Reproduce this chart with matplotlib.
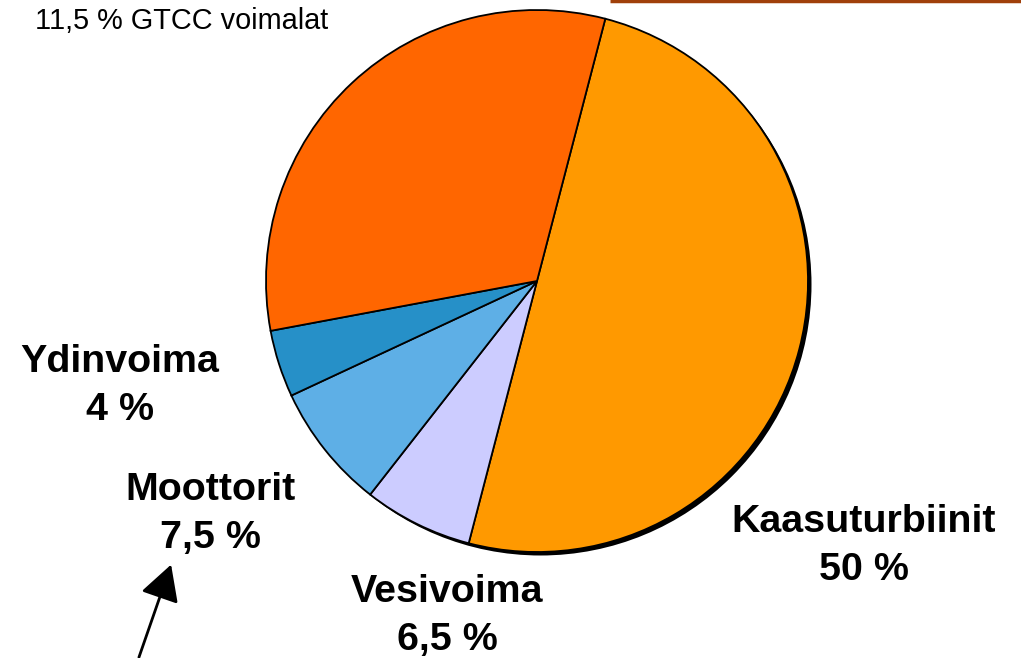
import matplotlib
matplotlib.use("Agg")
import matplotlib.pyplot as plt
from matplotlib.patches import Circle, FancyArrowPatch

# Data
categories = ["Kaasuturbiinit", "Vesivoima", "Moottorit", "Ydinvoima", "Lämpövoimalat"]
shares = [50, 6.5, 7.5, 4, 32]
value_labels = ["50 %", "6,5 %", "7,5 %", "4 %", ""]
colors = ["#FF9900", "#CCCCFF", "#5EAFE6", "#2690C8", "#FF6600"]
top_note = "11,5 % GTCC voimalat"

W, H = 1021, 658
fig = plt.figure(figsize=(W / 100, H / 100), dpi=100)
ax = fig.add_axes([0, 0, 1, 1])
ax.set_xlim(0, W)
ax.set_ylim(0, H)
ax.set_aspect("equal")
ax.axis("off")

cx, cy, r = 537, H - 281, 271

# drop shadow
ax.add_patch(Circle((cx + 3.5, cy - 3.5), r, facecolor="black", edgecolor="none", zorder=1))

wedges, _ = ax.pie(shares, colors=colors, startangle=75.4, counterclock=False,
                   center=(cx, cy), radius=r, frame=True,
                   wedgeprops=dict(edgecolor="black", linewidth=1.3))
for w in wedges:
    w.set_zorder(2)
ax.set_xlim(0, W)
ax.set_ylim(0, H)
ax.axis("off")

font = ["Liberation Sans", "DejaVu Sans"]
label_pos = {
    "Kaasuturbiinit": (864, 522),
    "Vesivoima": (447, 592),
    "Moottorit": (210, 490),
    "Ydinvoima": (120, 362),
}
for name, val in zip(categories, value_labels):
    if name not in label_pos:
        continue
    x, y = label_pos[name]
    ax.text(x, H - y, name, ha="center", va="center", fontsize=28.4, fontweight="bold",
            family=font, zorder=5)
    ax.text(x, H - (y + 48), val, ha="center", va="center", fontsize=28.4, fontweight="bold",
            family=font, zorder=5)

ax.text(182, H - 21, top_note, ha="center", va="center", fontsize=20.8, family=font, zorder=5)

# arrow
arr = FancyArrowPatch((138, H - 660), (172, H - 562), arrowstyle="-|>,head_length=10,head_width=5.5",
                      mutation_scale=2.2, color="black", linewidth=2, zorder=6)
ax.add_patch(arr)

# brown line at top right
ax.plot([610, W], [H - 1, H - 1], color="#A0400A", linewidth=2.5, solid_capstyle="butt",
        zorder=6, clip_on=False)

fig.savefig("out.png", dpi=100)
